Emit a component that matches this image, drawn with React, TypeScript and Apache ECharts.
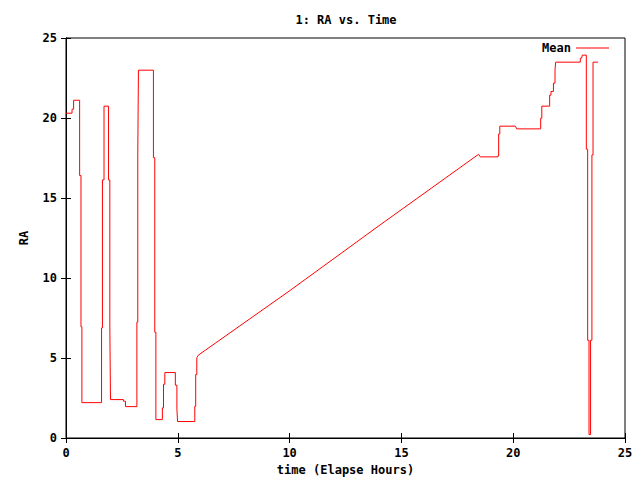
import React, { useEffect, useRef } from "react";
import * as echarts from "echarts";

const titleText = "1: RA vs. Time";
const seriesName = "Mean";
const xAxisName = "time (Elapse Hours)";
const yAxisName = "RA";

const times: number[] = [
  0, 0.27, 0.27, 0.34, 0.34, 0.61, 0.61, 0.67, 0.67, 0.71, 0.71, 1.59, 1.59, 1.63, 1.63, 1.7, 1.7, 1.9, 1.9, 1.96,
  1.96, 1.99, 1.99, 2.57, 2.57, 2.66, 2.66, 3.17, 3.17, 3.21, 3.21, 3.24, 3.24, 3.91, 3.91, 3.97, 3.97, 4.02, 4.02, 4.31,
  4.31, 4.36, 4.36, 4.42, 4.42, 4.89, 4.89, 4.96, 4.96, 4.99, 4.99, 5.76, 5.76, 5.8, 5.8, 5.85, 5.85, 5.92, 9.98, 14.0,
  18.45, 18.53, 19.31, 19.31, 19.35, 19.35, 19.4, 19.4, 20.1, 20.16, 21.23, 21.23, 21.28, 21.28, 21.63, 21.63, 21.69, 21.69, 21.8, 21.8,
  21.87, 21.87, 21.9, 21.9, 23.0, 23.0, 23.06, 23.09, 23.27, 23.27, 23.33, 23.33, 23.39, 23.39, 23.46, 23.46, 23.52, 23.52, 23.57, 23.57,
  23.79,
];

const raValues: number[] = [
  20.3, 20.3, 20.55, 20.55, 21.11, 21.11, 16.4, 16.4, 6.95, 6.95, 2.21, 2.21, 6.88, 6.88, 16.13, 16.13, 20.74, 20.74, 16.13, 16.13,
  7.01, 7.01, 2.4, 2.4, 2.3, 2.3, 1.96, 1.96, 7.24, 7.24, 17.75, 17.75, 22.99, 22.99, 17.52, 17.52, 6.61, 6.61, 1.15, 1.15,
  1.88, 1.88, 3.36, 3.36, 4.09, 4.09, 3.3, 3.3, 1.8, 1.8, 1.03, 1.03, 1.98, 1.98, 3.97, 3.97, 5.01, 5.18, 9.18, 13.27,
  17.73, 17.57, 17.57, 17.63, 17.63, 19.0, 19.0, 19.49, 19.49, 19.32, 19.32, 19.99, 19.99, 20.74, 20.74, 21.43, 21.43, 21.66, 21.66, 22.18,
  22.18, 23.01, 23.01, 23.49, 23.49, 23.74, 23.74, 23.93, 23.93, 18.05, 18.05, 6.11, 6.11, 0.21, 0.21, 6.11, 6.11, 17.69, 17.69, 23.49,
  23.49,
];

const FONT = "DejaVu Sans Mono";

export default function App() {
  const ref = useRef<HTMLDivElement>(null);
  useEffect(() => {
    if (!ref.current) return;
    const chart = echarts.init(ref.current, null, { renderer: "svg" });
    const data = times.map((t, i) => [t, raValues[i]]);
    const labelStyle = { fontFamily: FONT, fontWeight: "bold" as const, fontSize: 12, color: "#000" };
    const axisCommon = {
      type: "value" as const,
      min: 0,
      max: 25,
      interval: 5,
      splitLine: { show: false },
      axisLine: { show: true, lineStyle: { color: "#000", width: 1 } },
      axisTick: { show: true, inside: true, length: 5, lineStyle: { color: "#000" } },
    };
    chart.setOption({
      animation: false,
      backgroundColor: "#fff",
      title: {
        text: titleText,
        left: 341,
        textAlign: "center",
        top: 9,
        textStyle: { ...labelStyle, fontSize: 12 },
      },
      legend: {
        data: [{ name: seriesName, icon: "rect" }],
        right: 26,
        top: 37,
        align: "right",
        itemWidth: 33,
        itemHeight: 1,
        textStyle: labelStyle,
      },
      grid: {
        left: 66,
        right: 15,
        top: 38,
        bottom: 42,
        show: true,
        borderColor: "#000",
        borderWidth: 1,
        containLabel: false,
        outerBoundsMode: "none",
      },
      xAxis: [
        {
          ...axisCommon,
          position: "bottom",
          name: xAxisName,
          nameLocation: "middle",
          nameGap: 26,
          nameTextStyle: labelStyle,
          axisLabel: { ...labelStyle, margin: 9 },
        },
        { ...axisCommon, position: "top", axisLabel: { show: false } },
      ],
      yAxis: [
        {
          ...axisCommon,
          position: "left",
          name: yAxisName,
          nameLocation: "middle",
          nameRotate: 90,
          nameGap: 36,
          nameTextStyle: labelStyle,
          axisLabel: { ...labelStyle, margin: 9 },
        },
        { ...axisCommon, position: "right", axisLabel: { show: false } },
      ],
      series: [
        {
          name: seriesName,
          type: "line",
          data,
          showSymbol: false,
          symbol: "none",
          lineStyle: { color: "#ff0000", width: 1 },
          itemStyle: { color: "#ff0000" },
        },
      ],
    });
    return () => chart.dispose();
  }, []);
  return <div ref={ref} style={{ position: "fixed", left: 0, top: 0, width: 640, height: 480 }} />;
}
